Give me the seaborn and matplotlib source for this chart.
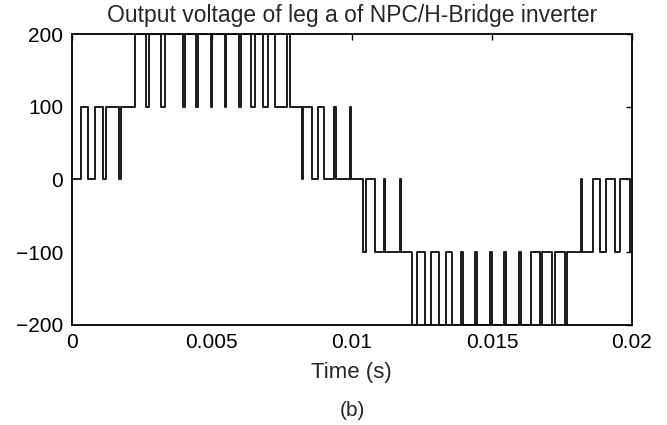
import numpy as np
import pandas as pd
import matplotlib
matplotlib.use("Agg")
import matplotlib.pyplot as plt
import seaborn as sns

# Switching instants (ms) and the output level reached at each instant (V)
switch_ms = [0.000, 0.346, 0.582, 0.821, 1.118, 1.239, 1.689, 1.775, 2.250,
             2.643, 2.768, 3.196, 3.339, 3.982, 4.036, 4.446, 4.500, 4.971,
             5.007, 5.471, 5.507, 5.964, 6.054, 6.393, 6.536, 6.832, 7.011,
             7.250, 7.668, 7.786, 8.214, 8.250, 8.571, 8.786, 9.000, 9.357,
             9.446, 9.929, 9.964, 10.411, 10.500, 10.821, 11.143, 11.196,
             11.714, 11.750, 12.143, 12.321, 12.607, 12.821, 13.107, 13.357,
             13.571, 13.893, 13.964, 14.393, 14.464, 14.929, 15.000, 15.446,
             15.518, 15.964, 16.036, 16.393, 16.714, 16.804, 17.143, 17.268,
             17.607, 17.696, 18.196, 18.232, 18.625, 18.857, 19.089, 19.393,
             19.571, 19.929, 20.000]
levels = [0, 100, 0, 100, 0, 100, 0, 100, 200,
          100, 200, 100, 200, 100, 200, 100, 200, 100,
          200, 100, 200, 100, 200, 100, 200, 100, 200,
          100, 200, 100, 0, 100, 0, 100, 0, 100,
          0, 100, 0, -100, 0, -100, 0, -100,
          0, -100, -200, -100, -200, -100, -200, -100,
          -200, -100, -200, -100, -200, -100, -200, -100,
          -200, -100, -200, -100, -200, -100, -200, -100,
          -200, -100, 0, -100, 0, -100, 0, -100,
          0, -100, -100]

x_ticks = [0, 0.005, 0.01, 0.015, 0.02]
x_ticklabels = ["0", "0.005", "0.01", "0.015", "0.02"]
y_ticks = [-200, -100, 0, 100, 200]
y_ticklabels = ["\u2212200", "\u2212100", "0", "100", "200"]

title = "Output voltage of leg a of NPC/H-Bridge inverter"
xlabel = "Time (s)"
caption = "(b)"

df = pd.DataFrame({"t": np.array(switch_ms) / 1000.0, "v": levels})

sns.set_theme(style="white")
plt.rcParams["font.family"] = ["Liberation Sans", "DejaVu Sans"]

fig = plt.figure(figsize=(6.67, 4.25), dpi=100)
ax = fig.add_axes([0.1075, 0.2353, 0.84, 0.6847])

sns.lineplot(data=df, x="t", y="v", ax=ax, estimator=None, sort=False,
             drawstyle="steps-post", color="#1a1a1a", linewidth=1.4)

ax.set_xlim(0, 0.02)
ax.set_ylim(-200, 200)
ax.set_xticks(x_ticks)
ax.set_xticklabels(x_ticklabels)
ax.set_yticks(y_ticks)
ax.set_yticklabels(y_ticklabels)
ax.tick_params(direction="in", length=4, width=1.0, top=True, right=True,
               labelsize=15, colors="black", pad=6)
for s in ax.spines.values():
    s.set_color("black")
    s.set_linewidth(1.3)
    s.set_visible(True)

ax.set_title(title, fontsize=16.5, pad=9)
ax.set_xlabel(xlabel, fontsize=16, labelpad=7)
ax.set_ylabel("")
fig.text(0.528, 0.035, caption, ha="center", va="center", fontsize=15)

fig.savefig("out.png", dpi=100, facecolor="white")
